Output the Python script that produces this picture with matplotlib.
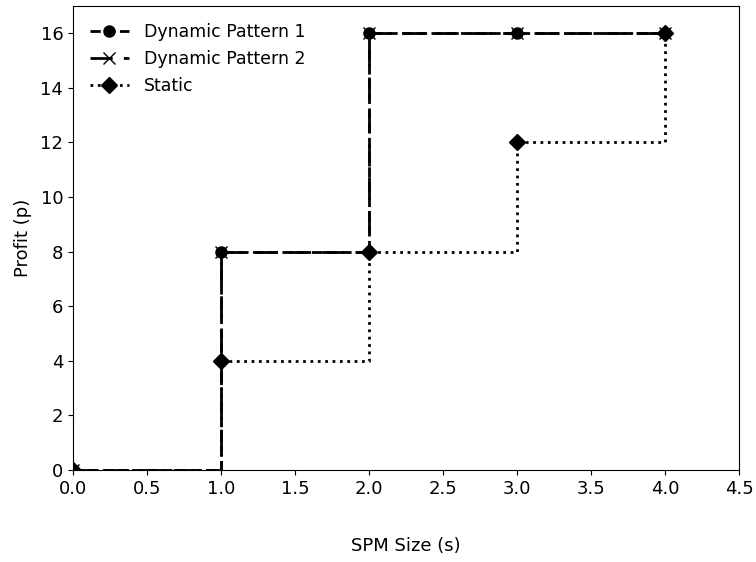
import matplotlib
matplotlib.use("Agg")
import matplotlib.pyplot as plt

spm_size = [0, 1, 2, 3, 4]
dynamic1 = [0, 8, 16, 16, 16]
dynamic2 = [0, 8, 16, 16, 16]
static = [0, 4, 8, 12, 16]

fig = plt.figure(figsize=(7.56, 5.62), dpi=100)
ax = fig.add_axes([0.0966, 0.1637, 0.881, 0.8256])
ax.plot(spm_size, dynamic1, drawstyle='steps-post', color='black', linestyle='--',
        marker='o', markersize=8, linewidth=2, label='Dynamic Pattern 1')
ax.plot(spm_size, dynamic2, drawstyle='steps-post', color='black', linestyle=(0, (8, 4)),
        marker='x', markersize=8, linewidth=2, label='Dynamic Pattern 2')
ax.plot(spm_size, static, drawstyle='steps-post', color='black', linestyle=':',
        marker='D', markersize=8, linewidth=2, label='Static')
ax.set_xlim(0, 4.5)
ax.set_ylim(0, 17)
ax.set_yticks(range(0, 17, 2))
ax.set_xticks([0, 0.5, 1, 1.5, 2, 2.5, 3, 3.5, 4, 4.5])
ax.tick_params(labelsize=13)
ax.set_xlabel('SPM Size (s)', fontsize=13, labelpad=28)
ax.set_ylabel('Profit (p)', fontsize=13, labelpad=6)
ax.legend(loc='upper left', frameon=False, fontsize=12.5, handlelength=2.2,
          handletextpad=0.9, borderaxespad=0.6)
fig.savefig('out.png', dpi=100)
